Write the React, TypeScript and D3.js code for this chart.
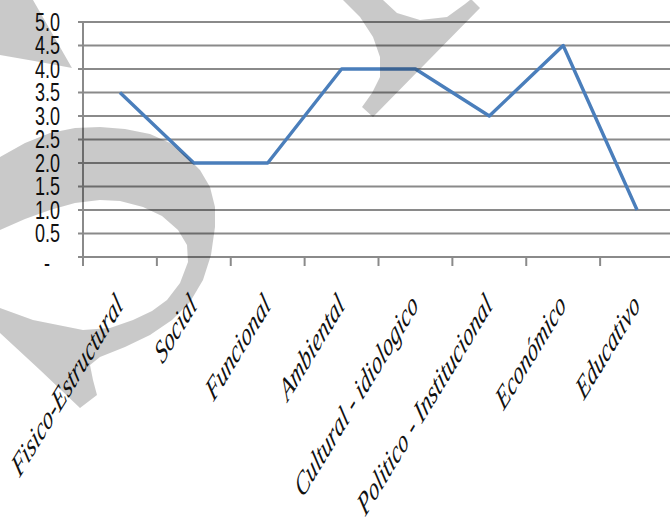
import React from 'react';
import * as d3 from 'd3';

// categories and values
const categories = [
    "Fisico-Estructural",
    "Social",
    "Funcional",
    "Ambiental",
    "Cultural - idiologico",
    "Politico - Institucional",
    "Económico",
    "Educativo",
];
const values = [3.5, 2, 2, 4, 4, 3, 4.5, 1];
const yTicks = [0, 0.5, 1, 1.5, 2, 2.5, 3, 3.5, 4, 4.5, 5];
const yTickLabels = ["-", "0.5", "1.0", "1.5", "2.0", "2.5", "3.0", "3.5", "4.0", "4.5", "5.0"];

// grey "S" watermark over the picture
const wmTopLeft = [[0, 0], [33, 0], [72, 68], [40, 62], [0, 55]];
const wmTop = [
    [343, 0], [383, 0], [397, 13], [420, 20], [447, 17], [465, 4], [470, 0], [472, 0], [480, 8],
    [373, 117], [362, 107], [372, 93], [380, 77], [380, 57], [373, 37], [360, 17],
];
const wmBottom = [
    [0, 157], [25, 143], [50, 133], [75, 128], [100, 127], [125, 129], [150, 134], [170, 143],
    [187, 157], [200, 170], [210, 187], [215, 207], [215, 227], [211, 255], [203, 280], [190, 302],
    [172, 320], [150, 335], [125, 347], [100, 357], [90, 365], [93, 380], [97, 395], [80, 408],
    [40, 370], [0, 333], [0, 308], [33, 320], [83, 330], [110, 328], [133, 320], [152, 311],
    [167, 300], [180, 283], [188, 262], [187, 245], [178, 230], [162, 216], [143, 207], [120, 201],
    [100, 200], [75, 203], [50, 210], [25, 219], [0, 230],
];

const width = 670;
const height = 523;
const margin = {top: 22, right: -4, bottom: 266, left: 83};
const stretch = 1.64; // the source image is squashed horizontally

export default function App() {
    const x = d3.scaleBand()
        .domain(categories)
        .range([margin.left, width - margin.right])
        .padding(0);
    const y = d3.scaleLinear()
        .domain([0, 5])
        .range([height - margin.bottom, margin.top]);

    const line = d3.line<number>()
        .x((d, i) => x(categories[i])! + x.bandwidth() / 2)
        .y(d => y(d));

    const poly = d3.line().curve(d3.curveLinearClosed);

    const tickXs = categories.map(c => x(c)!).concat([x(categories[categories.length - 1])! + x.bandwidth()]);
    const gridColor = "#8a8a8a";

    return (
        <svg width={width} height={height} style={{position: 'absolute', left: 0, top: 0, background: '#fff'}}>
            <rect width={width} height={height} fill="#fff"/>
            {/* gridlines */}
            {yTicks.map(t => (
                <line key={t} x1={margin.left - 5} x2={width} y1={y(t)} y2={y(t)}
                      stroke={gridColor} strokeWidth={2}/>
            ))}
            {/* y axis */}
            <line x1={margin.left} x2={margin.left} y1={y(5)} y2={y(0) + 5} stroke={gridColor} strokeWidth={2}/>
            {tickXs.map((tx, i) => (
                <line key={i} x1={tx} x2={tx} y1={y(0)} y2={y(0) + 9} stroke={gridColor} strokeWidth={2}/>
            ))}
            {/* y tick labels */}
            <g fontFamily="'Liberation Sans', Arial, sans-serif" fontSize={18} fill="#111">
                {yTicks.map((t, i) => (
                    <text key={t}
                          transform={`translate(${yTickLabels[i] === "-" ? 50 : 60},${y(t) + (yTickLabels[i] === "-" ? 6 : 0)}) scale(1,1.4)`}
                          textAnchor="end" dominantBaseline="central">
                        {yTickLabels[i]}
                    </text>
                ))}
            </g>
            {/* x labels */}
            <g fontFamily="'Liberation Serif', 'Times New Roman', serif" fontStyle="italic" fontSize={20} fill="#111">
                {categories.map(c => (
                    <text key={c}
                          transform={`translate(${x(c)! + x.bandwidth() / 2 + 4},${y(0) + 50}) scale(1,${stretch}) rotate(-45)`}
                          textAnchor="end">
                        {c}
                    </text>
                ))}
            </g>
            {/* series */}
            <path d={line(values)!} fill="none" stroke="#4a7ebb" strokeWidth={3.4} strokeLinejoin="round"/>
            {/* watermark */}
            <g fill="#000" fillOpacity={0.21}>
                <path d={poly(wmTopLeft as [number, number][])!}/>
                <path d={poly(wmTop as [number, number][])!}/>
                <path d={poly(wmBottom as [number, number][])!}/>
            </g>
        </svg>
    );
}
